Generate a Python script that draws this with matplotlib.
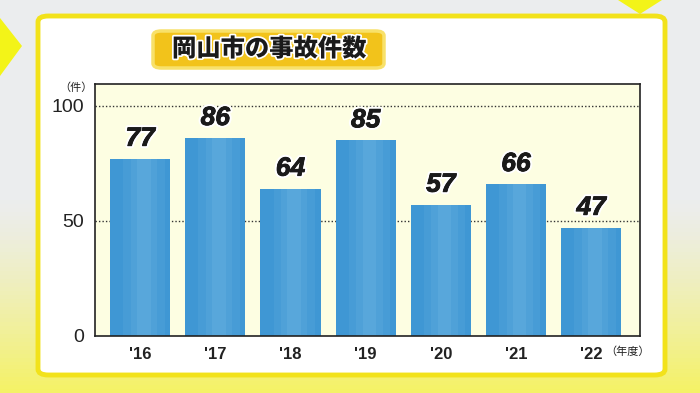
import numpy as np
import matplotlib.pyplot as plt
from matplotlib.patches import FancyBboxPatch, Polygon
import matplotlib.patheffects as pe

plt.rcParams['font.family'] = ['Noto Sans CJK JP', 'DejaVu Sans']

years = ["'16", "'17", "'18", "'19", "'20", "'21", "'22"]
counts = [77, 86, 64, 85, 57, 66, 47]
title = '岡山市の事故件数'

W, H = 700, 393
fig = plt.figure(figsize=(7, 3.93), dpi=100)


def fx(px):
    return px / W


def fy(py):
    return 1 - py / H


# background: grey fading to yellow at the bottom
bg = fig.add_axes([0, 0, 1, 1], zorder=0)
grey = np.array([0.925, 0.93, 0.935])
yellow = np.array([0.96, 0.95, 0.40])
t = np.clip((np.linspace(0, 1, 100) - 0.5) / 0.5, 0, 1) ** 1.3
grad = grey[None, :] * (1 - t[:, None]) + yellow[None, :] * t[:, None]
bg.imshow(grad[:, None, :], aspect='auto', extent=[0, 1, 0, 1], origin='upper')
bg.set_xlim(0, 1)
bg.set_ylim(0, 1)
bg.axis('off')

deco = [
    [(0, 18), (22, 46), (0, 76)],
    [(618, 0), (640, 14), (662, 0)],
]
for pts in deco:
    bg.add_patch(Polygon([(fx(x), fy(y)) for x, y in pts], closed=True,
                         facecolor='#F4F500', edgecolor='none', alpha=0.9))

# white panel with yellow border
panel = FancyBboxPatch((fx(38), fy(375)), fx(665) - fx(38), fy(16) - fy(375),
                       boxstyle='round,pad=0,rounding_size=0.015',
                       facecolor='white', edgecolor='#F2E21A', linewidth=3.5)
bg.add_patch(panel)

# title box
tbox = FancyBboxPatch((fx(153), fy(68)), fx(384) - fx(153), fy(31) - fy(68),
                      boxstyle='round,pad=0,rounding_size=0.012',
                      facecolor='#F2C31B', edgecolor='#F8E16A', linewidth=2.5)
bg.add_patch(tbox)
bg.text(fx(269), fy(49), title, ha='center', va='center', fontsize=17.5,
        fontweight='heavy', color='#1A1A1A',
        path_effects=[pe.withStroke(linewidth=2.5, foreground='white')])

ax = fig.add_axes([fx(95), fy(336), fx(640) - fx(95), fy(84) - fy(336)], zorder=2)
ax.set_facecolor('#FDFEE2')
x = np.arange(len(years))
ax.bar(x, counts, width=0.8, color='#3F97D4', zorder=2)
for w, a in [(0.55, 0.10), (0.35, 0.12), (0.18, 0.15)]:
    ax.bar(x + 0.05, counts, width=w, color='#8FCBEE', alpha=a, zorder=2)
for xi, v in zip(x, counts):
    ax.text(xi, v + 3.5, str(v), ha='center', va='bottom', fontsize=19,
            fontweight='bold', fontstyle='italic', color='#1A1A1A',
            family=['Liberation Sans'], zorder=4,
            path_effects=[pe.withStroke(linewidth=3.5, foreground='white'),
                          pe.withStroke(linewidth=0.6, foreground='#1A1A1A')])

ax.set_xlim(-0.6, 6.65)
ax.set_ylim(0, 109.5)
ax.set_yticks([0, 50, 100])
ax.set_xticks(x)
ax.set_xticklabels(years, fontsize=12, fontweight='bold', color='#222222',
                   family=['Liberation Sans'])
ax.set_yticklabels(['0', '50', '100'], family=['Liberation Sans'])
ax.tick_params(axis='y', labelsize=14, length=0, pad=8, labelcolor='#222222')
ax.tick_params(axis='x', length=0, pad=8)
for yv in [50, 100]:
    ax.axhline(yv, color='#333333', linestyle=(0, (1, 1.5)), linewidth=1, zorder=1)
for s in ax.spines.values():
    s.set_color('#222222')
    s.set_linewidth(1.2)

bg.text(fx(76), fy(88), '（件）', ha='center', va='center', fontsize=8, color='#222222')
bg.text(fx(628), fy(352), '（年度）', ha='center', va='center', fontsize=8, color='#222222')

fig.savefig('out.png', dpi=100)
